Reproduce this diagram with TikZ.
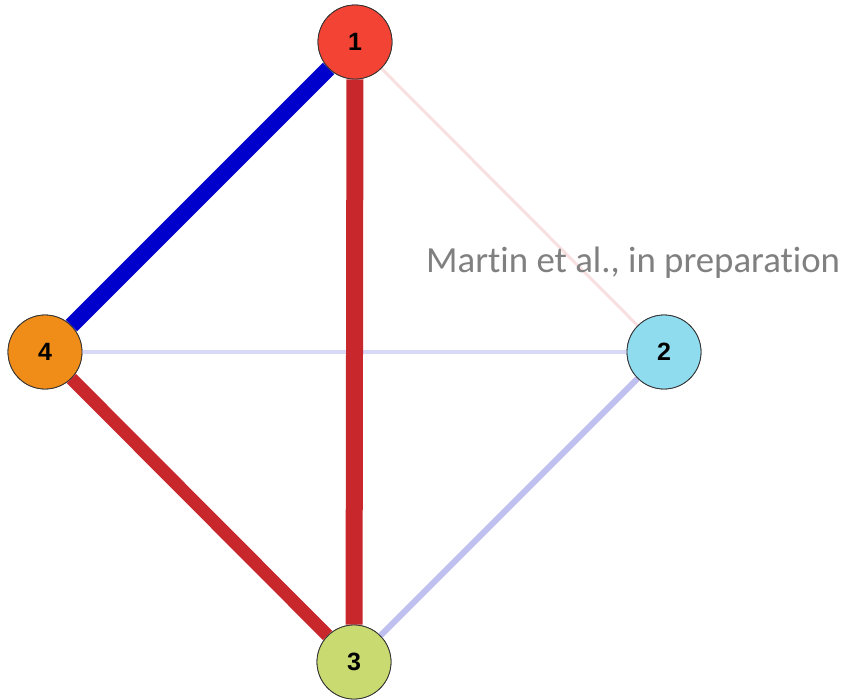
\documentclass[tikz,border=0pt]{standalone}
\usepackage{fontspec}
\setmainfont{Liberation Sans}
\newfontfamily\notefont[Ligatures=NoCommon]{Carlito}
\usetikzlibrary{positioning}
\definecolor{nodeRed}{RGB}{242,67,52}
\definecolor{nodeCyan}{RGB}{142,220,238}
\definecolor{nodeLime}{RGB}{200,218,112}
\definecolor{nodeOrange}{RGB}{240,140,24}
\definecolor{edgeRed}{RGB}{200,40,44}
\definecolor{edgeBlue}{RGB}{0,0,205}
\definecolor{edgeLight}{RGB}{192,192,240}
\definecolor{edgePale}{RGB}{216,216,248}
\definecolor{edgePink}{RGB}{248,224,224}
\definecolor{noteGray}{RGB}{128,128,128}

\begin{document}
\begin{tikzpicture}[
  x=1pt, y=-1pt,
  vertex/.style={circle, draw=black!80, line width=0.8pt, minimum size=74pt,
    inner sep=0pt, font=\fontsize{25}{25}\selectfont\bfseries},
  link/.style={line cap=butt}
]
\useasboundingbox (0,0) rectangle (848,699);

% The four vertices.
\node[vertex, fill=nodeRed]    (v1) at (355,42)  {1};
\node[vertex, fill=nodeCyan]   (v2) at (664,352) {2};
\node[vertex, fill=nodeLime]   (v3) at (354,662) {3};
\node[vertex, fill=nodeOrange] (v4) at (45,352)  {4};

% Weak links first.
\draw[link, draw=edgePink, line width=3pt] (v1) -- (v2);
\draw[link, draw=edgePale, line width=4pt] (v4) -- (v2);
\draw[link, draw=edgeLight, line width=6pt] (v2) -- (v3);

% Strong links.
\draw[link, draw=edgeRed, line width=13pt] (v4) -- (v3);
\draw[link, draw=edgeRed, line width=17pt] (v1) -- (v3);
\draw[link, draw=edgeBlue, line width=16pt] (v1) -- (v4);

% Redraw vertices on top.
\foreach \v/\c/\t in {v1/nodeRed/1, v2/nodeCyan/2, v3/nodeLime/3, v4/nodeOrange/4}
  \node[vertex, fill=\c] at (\v) {\t};

% Source note.
\node[anchor=base west, inner sep=0pt, text=noteGray,
  font=\notefont\fontsize{36.8}{36.8}\selectfont] (note) at (426,272)
  {Martin et al., in preparation};
\end{tikzpicture}
\end{document}
